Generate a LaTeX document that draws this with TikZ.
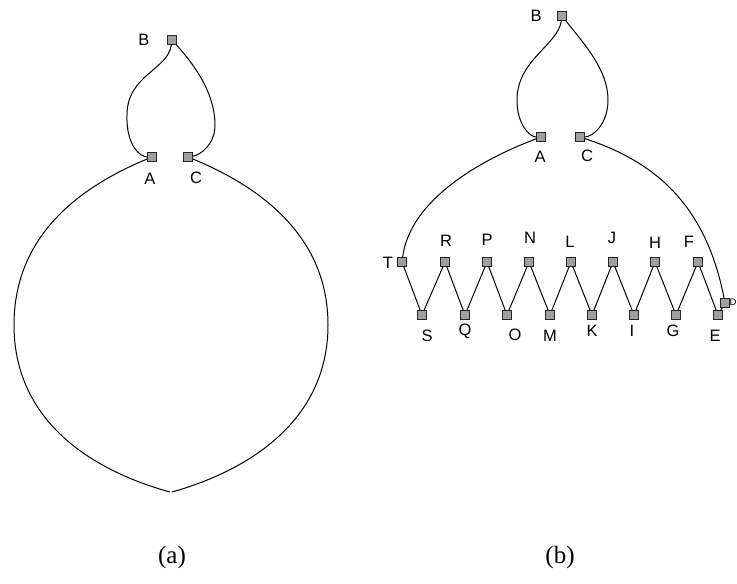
\documentclass[tikz,border=0pt]{standalone}
\usepackage{fontspec}
\setmainfont{Liberation Serif}
\newfontfamily\labelfont{Liberation Sans}
\begin{document}
\begin{tikzpicture}[x=1pt,y=-1pt,
  sq/.style={rectangle,minimum size=9pt,inner sep=0pt,fill=gray!75,draw=black!85,line width=0.6pt},
  lbl/.style={inner sep=0pt,font=\labelfont\fontsize{16.5}{16.5}\selectfont},
  captext/.style={inner sep=0pt,font=\fontsize{25}{25}\selectfont},
  wire/.style={line width=1pt,black}]
\useasboundingbox (0,0) rectangle (737,584);

% ---------- (a) ----------
\node[sq] (aB) at (172,40) {};
\node[sq] (aA) at (152,157) {};
\node[sq] (aC) at (188,157) {};
\node[lbl] (laB) at (144,40) {B};
\node[lbl] (laA) at (150,179) {A};
\node[lbl] (laC) at (196,178) {C};

\draw[wire] (aB) .. controls (168,70) and (127,75) .. (127,115)
                 .. controls (126,145) and (140,157) .. (aA);
\draw[wire] (aB) .. controls (190,60) and (215,90) .. (215,125)
                 .. controls (215,145) and (200,155) .. (aC);
\draw[wire] (aA) .. controls (60,195) and (14,250) .. (14,325)
                 .. controls (14,420) and (90,470) .. (170,492);
\draw[wire] (aC) .. controls (280,195) and (328,250) .. (328,325)
                 .. controls (328,420) and (250,470) .. (172,492);

% ---------- (b) ----------
\node[sq] (B) at (562,16) {};
\node[sq] (A) at (541,137) {};
\node[sq] (C) at (580,137) {};
\node[lbl] (lB) at (536,16) {B};
\node[lbl] (lA) at (540,157) {A};
\node[lbl] (lC) at (587,156) {C};

\draw[wire] (B) .. controls (558,45) and (517,60) .. (517,100)
                .. controls (517,125) and (530,137) .. (A);
\draw[wire] (B) .. controls (585,45) and (608,70) .. (608,100)
                .. controls (608,125) and (592,137) .. (C);

% zigzag nodes: top row and bottom row
\foreach \n/\x in {T/402,R/445,P/487,N/529,L/571,J/613,H/655,F/698}
  \node[sq] (\n) at (\x,262) {};
\foreach \n/\x in {S/422,Q/465,O/507,M/550,K/592,I/634,G/676,E/718}
  \node[sq] (\n) at (\x,315) {};
\node[sq] (D) at (725,303) {};

\node[lbl] (lT) at (388,263) {T};
\foreach \n/\x/\y in {R/446/241,P/487/240,N/530/238,L/570/242,J/612/238,H/655/243,F/689/242}
  \node[lbl] (l\n) at (\x,\y) {\n};
\foreach \n/\x/\y in {S/427/336,Q/465/331,O/515/335,M/550/336,K/592/331,I/632/331,G/673/331,E/715/336}
  \node[lbl] (l\n) at (\x,\y) {\n};
\node[lbl,anchor=west,font=\labelfont\fontsize{9.5}{9.5}\selectfont] (lD) at (729.5,302) {D};

\draw[wire] (A) .. controls (480,160) and (410,200) .. (T);
\draw[wire] (C) .. controls (650,160) and (705,200) .. (D);
\draw[wire] (T) -- (S) -- (R) -- (Q) -- (P) -- (O) -- (N) -- (M) -- (L)
  -- (K) -- (J) -- (I) -- (H) -- (G) -- (F) -- (E) -- (D);

% ---------- captions ----------
\node[captext] (capa) at (172,557) {(a)};
\node[captext] (capb) at (560,557) {(b)};
\end{tikzpicture}
\end{document}
